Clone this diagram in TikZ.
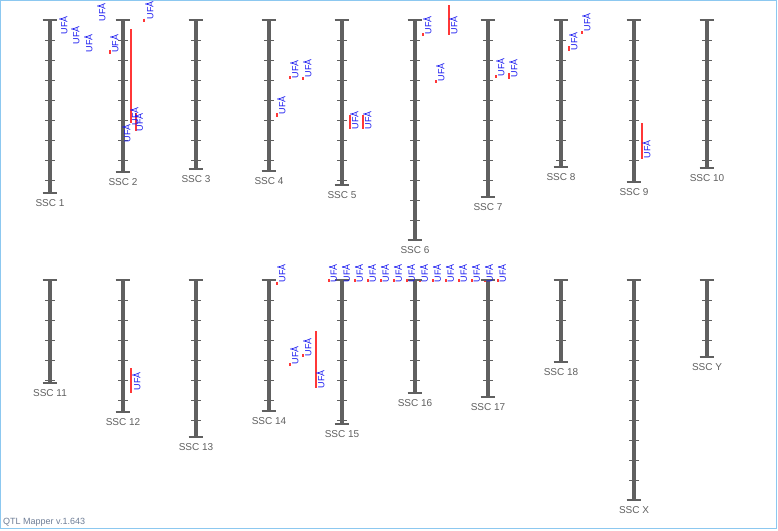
\documentclass[tikz,border=0pt]{standalone}
\usepackage{fontspec}
\setmainfont{Liberation Sans}
\definecolor{chr}{RGB}{96,96,96}
\definecolor{qred}{RGB}{255,55,55}
\definecolor{qblue}{RGB}{25,25,240}
\definecolor{framec}{RGB}{140,200,240}
\definecolor{lblc}{RGB}{95,95,95}
\definecolor{verc}{RGB}{110,125,150}
\tikzset{
  chrbar/.style={draw=chr,line width=4.5pt},
  chrtick/.style={draw=chr,line width=1pt},
  chrcap/.style={draw=chr,line width=1.4pt},
  chrlabel/.style={text=lblc,font=\fontsize{10}{10}\selectfont,inner sep=0pt},
  qmark/.style={draw=qred,line width=2pt},
  ufa/.style={text=qblue,font=\fontsize{9}{9}\selectfont,rotate=90,inner sep=0pt},
}
% chromosome: x, top, bottom, name
\newcommand{\chromo}[4]{%
  \draw[chrbar] (#1,#2) -- (#1,#3);
  \foreach \k in {1,...,12}{%
    \pgfmathtruncatemacro{\okk}{(#2+20*\k<#3-2)}%
    \ifnum\okk=1 \draw[chrtick] (#1-5,#2+20*\k) -- (#1+5,#2+20*\k);\fi
  }
  \draw[chrcap] (#1-7.3,#2) -- (#1+7.3,#2);
  \draw[chrcap] (#1-7.3,#3) -- (#1+7.3,#3);
  \node[chrlabel] (c#4) at (#1,#3+10) {SSC #4};
}
% qtl mark: x, y1, y2
\newcommand{\qmk}[3]{\draw[qmark] (#1,#2) -- (#1,#3);}
% label: name, x, y
\newcommand{\ufl}[3]{\node[ufa] (#1) at (#2,#3) {UFÅ};}
\begin{document}
\begin{tikzpicture}[x=1pt,y=-1pt]
\useasboundingbox (0,0) rectangle (778,530);
\draw[framec,line width=1pt] (0.5,0.5) rectangle (776.5,528.5);
% QTL marks
\qmk{110}{50}{54}
\qmk{144}{18.5}{21.5}
\qmk{131}{29}{123}
\qmk{136}{113}{131}
\qmk{290}{76}{79}
\qmk{303}{77}{80}
\qmk{277}{113}{117}
\qmk{350}{115}{129}
\qmk{363}{115}{129}
\qmk{423}{33}{36}
\qmk{449}{5}{35}
\qmk{436}{80}{83}
\qmk{496}{75}{77.5}
\qmk{509}{73}{79}
\qmk{569}{46}{51}
\qmk{582}{31}{33.5}
\qmk{642}{123}{159}
\qmk{131}{368}{393}
\qmk{277}{282}{285}
\foreach \k in {0,...,13}{\qmk{329+13*\k}{279}{282}}
\qmk{290}{363}{366}
\qmk{303}{354}{356.5}
\qmk{316}{331}{388}
% chromosomes
\chromo{50}{20}{193}{1}
\chromo{123}{20}{172}{2}
\chromo{196}{20}{169}{3}
\chromo{269}{20}{171}{4}
\chromo{342}{20}{185}{5}
\chromo{415}{20}{240}{6}
\chromo{488}{20}{197}{7}
\chromo{561}{20}{167}{8}
\chromo{634}{20}{182}{9}
\chromo{707}{20}{168}{10}
\chromo{50}{280}{383}{11}
\chromo{123}{280}{412}{12}
\chromo{196}{280}{437}{13}
\chromo{269}{280}{411}{14}
\chromo{342}{280}{424}{15}
\chromo{415}{280}{393}{16}
\chromo{488}{280}{397}{17}
\chromo{561}{280}{362}{18}
\chromo{634}{280}{500}{X}
\chromo{707}{280}{357}{Y}
% QTL labels
\ufl{a1}{63.5}{25}
\ufl{a2}{75.5}{35}
\ufl{a3}{88.5}{43}
\ufl{a4}{101.5}{12}
\ufl{b1}{114.5}{43.5}
\ufl{b2}{149.5}{10}
\ufl{b3}{126.5}{133}
\ufl{b4}{134.5}{116}
\ufl{b5}{139}{122}
\ufl{d1}{294.5}{69}
\ufl{d2}{307.5}{68}
\ufl{d3}{281.5}{105}
\ufl{e1}{354.5}{120}
\ufl{e2}{367.5}{120}
\ufl{f1}{427.5}{25}
\ufl{f2}{453.5}{25}
\ufl{f3}{440.5}{72}
\ufl{g1}{500.5}{67}
\ufl{g2}{513.5}{68}
\ufl{h1}{573.5}{41}
\ufl{h2}{586.5}{22}
\ufl{i1}{646.5}{149}
\ufl{l1}{136.5}{381}
\ufl{n1}{281.5}{273}
\foreach \k in {0,...,13}{\ufl{r\k}{333+13*\k}{273}}
\ufl{n2}{294.5}{355}
\ufl{n3}{307.5}{347}
\ufl{n4}{320.5}{379}
% version
\node[text=verc,font=\fontsize{9}{9}\selectfont,inner sep=0pt,anchor=west] (ver) at (3,522) {QTL Mapper v.1.643};
\end{tikzpicture}
\end{document}
